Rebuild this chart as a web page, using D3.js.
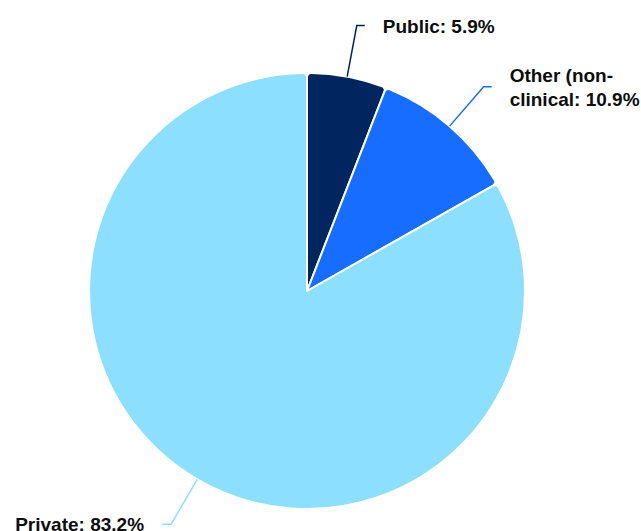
<!DOCTYPE html>
<html>
<head>
<meta charset="utf-8">
<script src="https://cdn.jsdelivr.net/npm/d3@7"></script>
<style>
html,body{margin:0;padding:0;background:#fff;}
svg{display:block;}
</style>
</head>
<body>
<svg id="chart" width="641" height="531"></svg>
<script>
const categories = ["Public", "Other (non-clinical", "Private"];
const values = [5.9, 10.9, 83.2];
const labelLines = [["Public: 5.9%"], ["Other (non-", "clinical: 10.9%"], ["Private: 83.2%"]];
const palette = ["#00255f", "#176dff", "#8ddfff"];

const width = 641, height = 531;
const cx = 307, cy = 291, radius = 218, elbowR = 270;

const svg = d3.select("#chart");
const g = svg.append("g").attr("transform", `translate(${cx},${cy})`);

const data = categories.map((c, i) => ({ cat: c, value: values[i], lines: labelLines[i], color: palette[i] }));

const pie = d3.pie().sort(null).value(d => d.value).startAngle(0).endAngle(2 * Math.PI);
const arcs = pie(data);

const arc = d3.arc().innerRadius(0).outerRadius(radius).cornerRadius(4);

g.selectAll("path.slice")
  .data(arcs)
  .join("path")
  .attr("class", "slice")
  .attr("d", arc)
  .attr("fill", d => d.data.color)
  .attr("stroke", "#fff")
  .attr("stroke-width", 2)
  .attr("stroke-linejoin", "round");

function pt(r, a) { return [r * Math.sin(a), -r * Math.cos(a)]; }

arcs.forEach(d => {
  const mid = (d.startAngle + d.endAngle) / 2;
  const right = Math.sin(mid) >= 0;
  const p0 = pt(radius, mid);
  const p1 = pt(elbowR, mid);
  const p2 = [p1[0] + (right ? 8 : -9), p1[1]];
  g.append("polyline")
    .attr("points", [p0, p1, p2].map(p => p.join(",")).join(" "))
    .attr("fill", "none")
    .attr("stroke", d.data.color)
    .attr("stroke-width", 1.5);
  const n = d.data.lines.length;
  const tx = p2[0] + (right ? 18 : -18);
  const t = g.append("text")
    .attr("x", tx)
    .attr("text-anchor", right ? "start" : "end")
    .attr("font-family", "'Liberation Sans', Arial, sans-serif")
    .attr("font-weight", "bold")
    .attr("font-size", 19)
    .attr("fill", "#0d0d0d");
  d.data.lines.forEach((line, i) => {
    t.append("tspan")
      .attr("x", tx)
      .attr("y", p1[1] + 7 + (i - (n - 1) / 2) * 24)
      .text(line);
  });
});
</script>
</body>
</html>
